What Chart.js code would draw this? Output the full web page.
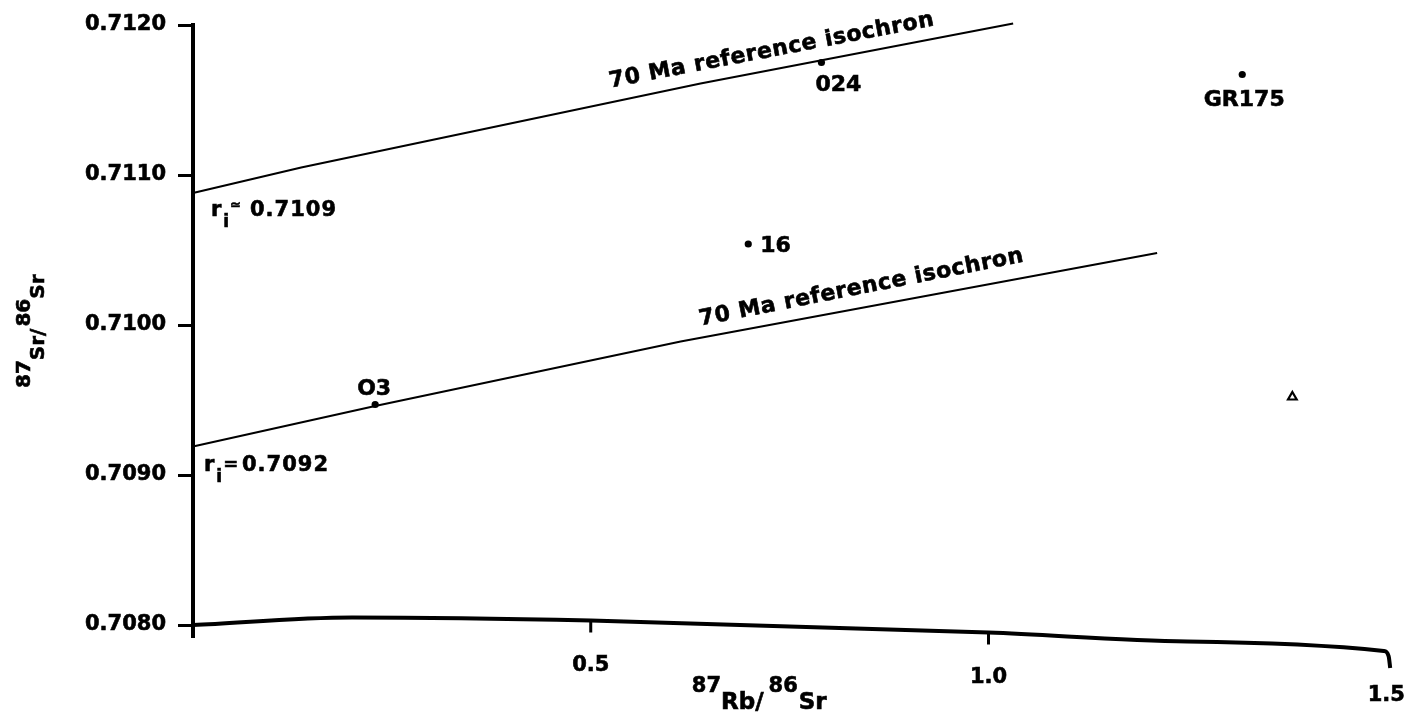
<!DOCTYPE html>
<html>
<head>
<meta charset="utf-8">
<script src="https://cdn.jsdelivr.net/npm/chart.js@4.4.1/dist/chart.umd.min.js"></script>
<style>
    html, body { margin: 0; padding: 0; background: #fff; }
    #wrap { width: 1414px; height: 712px; position: relative; }
</style>
</head>
<body>
<div id="wrap"><canvas id="isoChart"></canvas></div>
<script>
// Tick values
const xTicks = [0.5, 1.0, 1.5];
const yTicks = [0.7080, 0.7090, 0.7100, 0.7110, 0.7120];

// Samples (87Rb/86Sr, 87Sr/86Sr)
const sampleNames = ['024', 'GR175', '16', 'O3'];
const sampleX = [0.790, 1.319, 0.698, 0.229];
const sampleY = [0.71175, 0.71167, 0.71054, 0.70947];

// Unlabelled open triangle
const triX = [1.382];
const triY = [0.70952];

// 70 Ma reference isochrons (hand drawn, slightly bent)
const upperIsoX = [0, 0.136, 0.638, 1.031];
const upperIsoY = [0.71088, 0.71105, 0.71161, 0.71201];
const lowerIsoX = [0, 0.229, 0.613, 1.212];
const lowerIsoY = [0.70919, 0.70946, 0.70989, 0.71048];
const initialRatios = ['0.7109', '0.7092'];
const isoLabel = '70 Ma reference isochron';

// Hand-drawn x axis line
const baseX = [0, 0.2, 0.5, 1.0, 1.25, 1.497, 1.503, 1.505];
const baseY = [0.70800, 0.70805, 0.70803, 0.70795, 0.70789, 0.707827, 0.707793, 0.707713];

const FONT = '"DejaVu Sans", sans-serif';

function pts(xs, ys) {
    return xs.map((x, i) => ({ x: x, y: ys[i] }));
}

function baselineAt(v) {
    for (let i = 1; i < baseX.length; i++) {
        if (v <= baseX[i]) {
            const t = (v - baseX[i - 1]) / (baseX[i] - baseX[i - 1]);
            return baseY[i - 1] + t * (baseY[i] - baseY[i - 1]);
        }
    }
    return baseY[baseY.length - 1];
}

// draws text pieces with baseline shifts (super/subscripts)
function drawParts(ctx, parts, x, y) {
    let cx = x;
    parts.forEach(p => {
        ctx.font = 'bold ' + p.size + 'px ' + FONT;
        ctx.fillText(p.t, cx, y + (p.dy || 0));
        ctx.strokeText(p.t, cx, y + (p.dy || 0));
        cx += ctx.measureText(p.t).width + (p.gap || 0);
    });
}

const annotate = {
    id: 'annotate',
    afterDatasetsDraw(chart) {
        const ctx = chart.ctx;
        const xs = chart.scales.x;
        const ys = chart.scales.y;
        ctx.save();
        ctx.fillStyle = '#000';
        ctx.strokeStyle = '#000';
        ctx.textBaseline = 'alphabetic';

        // x ticks on the drawn baseline
        ctx.textAlign = 'center';
        xTicks.forEach(v => {
            const px = xs.getPixelForValue(v);
            const py = ys.getPixelForValue(baselineAt(Math.min(v, 1.496)));
            if (v < 1.5) {
                ctx.lineWidth = 3;
                ctx.beginPath();
                ctx.moveTo(px, py);
                ctx.lineTo(px, py + 12);
                ctx.stroke();
            }
            ctx.lineWidth = 0.6;
            ctx.font = 'bold 21px ' + FONT;
            ctx.fillText(v.toFixed(1), px, py + 50);
            ctx.strokeText(v.toFixed(1), px, py + 50);
        });

        ctx.lineWidth = 0.6;
        // x title
        ctx.textAlign = 'left';
        drawParts(ctx, [
            { t: '87', size: 21, dy: -17 },
            { t: 'Rb/', size: 23, gap: 5 },
            { t: '86', size: 21, dy: -17, gap: 1 },
            { t: 'Sr', size: 23 }
        ], xs.getPixelForValue(0.627), 709);

        // y title
        ctx.save();
        ctx.translate(44, 388);
        ctx.rotate(-Math.PI / 2);
        drawParts(ctx, [
            { t: '87', size: 20, dy: -14 },
            { t: 'Sr/', size: 20, gap: 2 },
            { t: '86', size: 20, dy: -14 },
            { t: 'Sr', size: 20 }
        ], 0, 0);
        ctx.restore();

        // isochron labels
        const isoText = [
            { xs: upperIsoX, ys: upperIsoY, start: 0.528, off: 13, tilt: 0 },
            { xs: lowerIsoX, ys: lowerIsoY, start: 0.641, off: 12, tilt: -0.012 }
        ];
        isoText.forEach(l => {
            const n = l.xs.length;
            const x1 = xs.getPixelForValue(l.xs[n - 2]), y1 = ys.getPixelForValue(l.ys[n - 2]);
            const x2 = xs.getPixelForValue(l.xs[n - 1]), y2 = ys.getPixelForValue(l.ys[n - 1]);
            const ang = Math.atan2(y2 - y1, x2 - x1) + l.tilt;
            const px = xs.getPixelForValue(l.start);
            const py = y1 + (px - x1) * (y2 - y1) / (x2 - x1);
            ctx.save();
            ctx.translate(px, py);
            ctx.rotate(ang);
            ctx.font = 'bold 22px ' + FONT;
            ctx.letterSpacing = '0.6px';
            ctx.fillText(isoLabel, 0, -l.off);
            ctx.strokeText(isoLabel, 0, -l.off);
            ctx.restore();
        });

        // initial ratio labels
        const riPos = [
            { y0: upperIsoY[0], dx: 18, dy: 23, sym: '\u2243', size: 13, sdy: -7, gap: 9, num: 39 },
            { y0: lowerIsoY[0], dx: 11, dy: 24, sym: '=', size: 18, sdy: -1, gap: 5, num: 38 }
        ];
        riPos.forEach((r, i) => {
            const px = xs.getPixelForValue(0) + r.dx;
            const py = ys.getPixelForValue(r.y0) + r.dy;
            ctx.letterSpacing = '0px';
            drawParts(ctx, [
                { t: 'r', size: 21, gap: 2 },
                { t: 'i', size: 17, dy: 11, gap: 1 },
                { t: r.sym, size: r.size, dy: r.sdy, gap: r.gap }
            ], px, py);
            ctx.letterSpacing = '1px';
            ctx.font = 'bold 21px ' + FONT;
            ctx.fillText(initialRatios[i], px + r.num, py);
            ctx.strokeText(initialRatios[i], px + r.num, py);
        });
        ctx.letterSpacing = '0px';

        // sample labels
        const labelOff = [
            { dx: 17, dy: 28, align: 'center' },
            { dx: 2, dy: 31, align: 'center' },
            { dx: 12, dy: 8, align: 'left' },
            { dx: -1, dy: -10, align: 'center' }
        ];
        ctx.font = 'bold 22px ' + FONT;
        sampleNames.forEach((name, i) => {
            const px = xs.getPixelForValue(sampleX[i]);
            const py = ys.getPixelForValue(sampleY[i]);
            ctx.textAlign = labelOff[i].align;
            ctx.fillText(name, px + labelOff[i].dx, py + labelOff[i].dy);
            ctx.strokeText(name, px + labelOff[i].dx, py + labelOff[i].dy);
        });

        ctx.restore();
    }
};

new Chart(document.getElementById('isoChart'), {
    type: 'scatter',
    data: {
        datasets: [
            {
                label: 'axis',
                type: 'line',
                data: pts(baseX, baseY),
                borderColor: '#000',
                borderWidth: 4,
                pointRadius: 0,
                cubicInterpolationMode: 'monotone',
                clip: false
            },
            {
                label: 'upper isochron',
                type: 'line',
                data: pts(upperIsoX, upperIsoY),
                borderColor: '#000',
                borderWidth: 2,
                pointRadius: 0,
                clip: false
            },
            {
                label: 'lower isochron',
                type: 'line',
                data: pts(lowerIsoX, lowerIsoY),
                borderColor: '#000',
                borderWidth: 2,
                pointRadius: 0,
                clip: false
            },
            {
                label: 'samples',
                data: pts(sampleX, sampleY),
                backgroundColor: '#000',
                borderWidth: 0,
                pointRadius: 3.6
            },
            {
                label: 'triangle',
                data: pts(triX, triY),
                pointStyle: 'triangle',
                backgroundColor: '#fff',
                borderColor: '#000',
                borderWidth: 2.2,
                pointRadius: 5
            }
        ]
    },
    options: {
        responsive: true,
        maintainAspectRatio: false,
        animation: false,
        events: [],
        layout: { padding: { left: 0, right: 23, top: 25, bottom: 0 } },
        plugins: {
            legend: { display: false },
            tooltip: { enabled: false }
        },
        scales: {
            x: {
                type: 'linear',
                min: 0,
                max: 1.506,
                grid: { display: false },
                border: { display: false },
                ticks: { display: false },
                afterFit: s => { s.height = 75; }
            },
            y: {
                type: 'linear',
                min: 0.70792,
                max: 0.7120,
                afterBuildTicks: s => { s.ticks = yTicks.map(v => ({ value: v })); },
                afterFit: s => { s.width = 193; },
                grid: {
                    drawOnChartArea: false,
                    tickLength: 15,
                    tickWidth: 3,
                    color: '#000'
                },
                border: { display: true, color: '#000', width: 4 },
                ticks: {
                    color: '#000',
                    padding: 12,
                    textStrokeColor: '#000',
                    textStrokeWidth: 0.6,
                    font: { family: 'DejaVu Sans', size: 21, weight: 'bold' },
                    callback: v => v.toFixed(4)
                }
            }
        }
    },
    plugins: [annotate]
});
</script>
</body>
</html>
